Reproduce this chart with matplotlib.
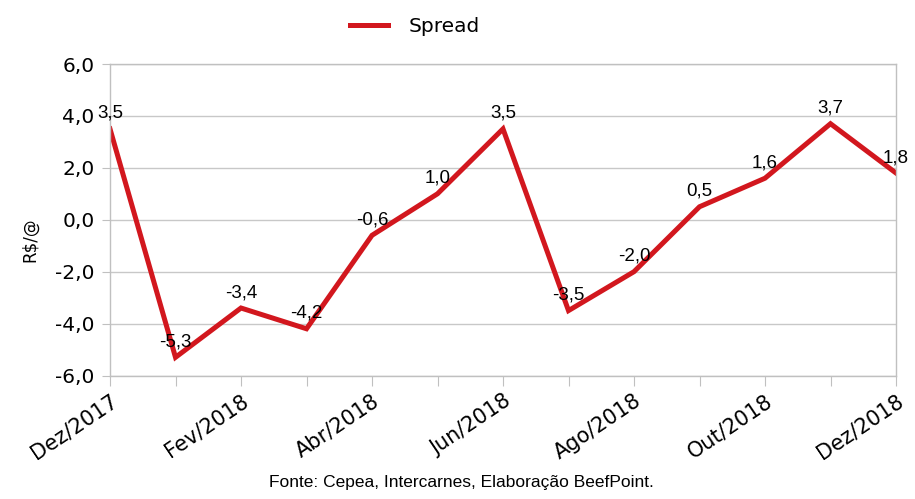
import matplotlib
matplotlib.use('Agg')
import matplotlib.pyplot as plt
import matplotlib.ticker as tck

###data###
months = ['Dez/2017', 'Jan/2018', 'Fev/2018', 'Mar/2018', 'Abr/2018', 'Mai/2018', 'Jun/2018',
          'Jul/2018', 'Ago/2018', 'Set/2018', 'Out/2018', 'Nov/2018', 'Dez/2018']
spread = [3.5, -5.3, -3.4, -4.2, -0.6, 1.0, 3.5, -3.5, -2.0, 0.5, 1.6, 3.7, 1.8]
y_ticks = [-6.0, -4.0, -2.0, 0.0, 2.0, 4.0, 6.0]

def br(v, pos=None):
    return ('%.1f' % v).replace('.', ',')

fig = plt.figure(figsize=(9.15, 4.99), dpi=100)
ax = fig.add_axes([110/915, 1-375.5/499, 786/915, 311.5/499])

x = list(range(len(months)))
ax.plot(x, spread, color='#d2171e', lw=3.6, label='Spread', solid_joinstyle='miter')

###data labels centered above each point###
for xi, yi in zip(x, spread):
    ax.annotate(br(yi), (xi, yi), xytext=(0, 5), textcoords='offset points',
                ha='center', va='bottom', fontsize=13.5, family='Liberation Sans')

ax.set_xlim(0, len(months) - 1)
ax.set_ylim(-6, 6)
ax.set_yticks(y_ticks)
ax.yaxis.set_major_formatter(tck.FuncFormatter(br))
ax.set_xticks(x)
ax.set_xticklabels([m if i % 2 == 0 else '' for i, m in enumerate(months)],
                   rotation=34, ha='right', rotation_mode='anchor')
ax.tick_params(axis='x', length=7, color='#c0c0c0', labelsize=15, pad=4)
ax.tick_params(axis='y', length=6, color='#c0c0c0', labelsize=14.5, pad=5)
ax.grid(axis='y', color='#c8c8c8', lw=1)
ax.set_axisbelow(True)
for s in ax.spines.values():
    s.set_color('#c0c0c0')
    s.set_linewidth(1)
fig.text(30/915, 1-240/499, 'R$/@', rotation=90, ha='center', va='center', fontsize=12)

fig.legend(loc='center', bbox_to_anchor=(415/915, 1-27/499), frameon=False,
           fontsize=14.5, handlelength=1.9, handletextpad=1.0)
fig.text(461/915, 1-482/499, 'Fonte: Cepea, Intercarnes, Elaboração BeefPoint.',
         ha='center', va='center', fontsize=12.5, family='Liberation Sans')

fig.savefig('out.png', dpi=100)
